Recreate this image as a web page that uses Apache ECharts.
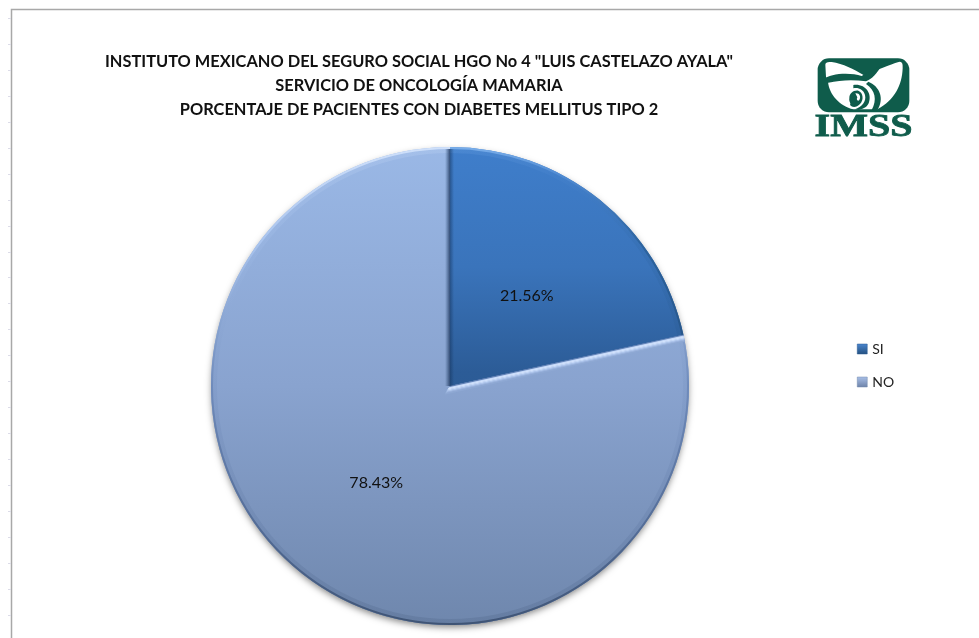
<!DOCTYPE html>
<html>
<head>
<meta charset="utf-8">
<style>html,body{margin:0;padding:0;background:#fff}#chart{width:979px;height:638px}</style>
<script src="https://cdn.jsdelivr.net/npm/echarts@6/dist/echarts.min.js"></script>
</head>
<body>
<div id="chart"></div>
<script>
const categories = ['SI', 'NO'];
const shares = [21.56, 78.43];
const labelOffsets = [[0, 5], [3, 1]];
const titleLines = [
  'INSTITUTO MEXICANO DEL SEGURO SOCIAL HGO No 4 "LUIS CASTELAZO AYALA"',
  'SERVICIO DE ONCOLOGÍA MAMARIA',
  'PORCENTAJE DE PACIENTES CON DIABETES MELLITUS TIPO 2'
];

const cx = 450, cy = 386, radius = 239;
const top_ = cy - radius, bottom_ = cy + radius;

// Vertical gradient shared by all layers, in page pixels
function vertical(stops) {
  return new echarts.graphic.LinearGradient(0, top_, 0, bottom_,
    stops.map(([offset, color]) => ({ offset, color })), true);
}
function iconFill(a, b) {
  return new echarts.graphic.LinearGradient(0, 0, 0, 1, [{ offset: 0, color: a }, { offset: 1, color: b }]);
}
const fillSi = vertical([[0, '#3f7ecb'], [0.25, '#3a74bb'], [0.47, '#2c5c97'], [1, '#24507f']]);
const fillNo = vertical([[0, '#9ab8e6'], [0.5, '#89a3cf'], [1, '#6f87ad']]);
const rimSi = vertical([[0, '#7aaeea'], [0.06, '#4f8ad2'], [0.2, '#2d649f'], [0.5, '#244f80'], [1, '#1f4570']]);
const rimNo = vertical([[0, '#cfe0fa'], [0.2, '#a9c4ee'], [0.5, '#6f8bbb'], [0.8, '#536c96'], [1, '#3f5475']]);

function layer(fills, extra) {
  return categories.map((name, i) => ({
    name, value: shares[i],
    itemStyle: { color: fills[i], ...extra }
  }));
}

// Seam at the end of the first slice: parallel lines stepping from bright to the slice colour
const seamAngle = shares[0] / (shares[0] + shares[1]) * 2 * Math.PI;
const tx = Math.sin(seamAngle), ty = -Math.cos(seamAngle);
const nx = Math.cos(seamAngle), ny = Math.sin(seamAngle);
const seamSteps = ['#5f7fb4', '#c4d8f8', '#d4e3fc', '#c6d9f8', '#afc6ec', '#9cb4de', '#8ea8d3'];
const seamLines = seamSteps.map((stroke, i) => {
  const d = i + 0.5;
  const reach = Math.sqrt(radius * radius - d * d);
  return { type: 'line', silent: true, z: 20,
    shape: {
      x1: cx + nx * d - tx * d, y1: cy + ny * d - ty * d,
      x2: cx + nx * d + tx * reach, y2: cy + ny * d + ty * reach
    },
    style: { stroke, lineWidth: 1.3 } };
});

const frameTicks = [];
for (let y = 18; y < 638; y += 25.95) {
  frameTicks.push({ type: 'line', silent: true, z: 10,
    shape: { x1: 8, y1: Math.round(y) + 0.5, x2: 11, y2: Math.round(y) + 0.5 },
    style: { stroke: '#dcdce8', lineWidth: 1 } });
}

// Emblem outlines
const emblemPaths = {
  emblemShield: 'M106,74 Q106,64 125,66 C160,72 190,86 222,106 C260,90 300,74 326,66 Q340,62 338,85 C336,135 315,180 262,208 L190,208 C150,198 118,165 114,125 L108,110 Z',
  emblemEagle: 'M100,118 C120,100 180,96 215,108 C230,100 255,88 275,76 C262,100 245,118 228,124 C190,118 150,120 115,128 Z',
  emblemSwoosh: 'M235,125 C268,138 285,175 262,210 L245,210 C262,180 256,150 228,132 Z',
  emblemHalo: 'M190,135 C225,130 248,160 236,190 C230,204 215,208 205,210 L195,208 C215,200 230,185 225,165 C220,148 205,142 190,145 Z',
  emblemFace: 'M178,175 C178,160 190,150 205,152 C220,158 222,180 210,192 C200,202 188,204 180,195 C184,190 176,186 178,175 Z',
  emblemCurl: 'M196,160 C208,158 214,170 208,180 C203,186 198,178 202,172 Z'
};
Object.keys(emblemPaths).forEach(k => {
  echarts.graphic.registerShape(k, echarts.graphic.extendPath(emblemPaths[k]));
});

const green = '#0f5c4b';
const logo = {
  type: 'group', x: 790, y: 40, scaleX: 1 / 3, scaleY: 1 / 3, silent: true, z: 30,
  children: [
    { type: 'rect', shape: { x: 83, y: 55, width: 275, height: 162, r: 34 }, style: { fill: green } },
    { type: 'emblemShield', style: { fill: '#fff' } },
    { type: 'emblemEagle', style: { fill: green } },
    { type: 'emblemSwoosh', style: { fill: green } },
    { type: 'emblemHalo', style: { fill: green } },
    { type: 'emblemFace', style: { fill: green } },
    { type: 'emblemCurl', style: { fill: '#fff' } }
  ]
};
const logoWord = {
  type: 'text', silent: true, z: 30, x: 863.5, y: 128, scaleX: 1.25, scaleY: 1,
  style: { text: 'IMSS', align: 'center', verticalAlign: 'middle',
    font: 'bold 32px "Liberation Serif"', fill: green, stroke: green, lineWidth: 0.8 }
};

const chart = echarts.init(document.getElementById('chart'), null, { renderer: 'canvas' });
chart.setOption({
  backgroundColor: '#ffffff',
  animation: false,
  title: {
    text: titleLines.join('\n'),
    left: 414, top: 45, textAlign: 'center',
    textStyle: { fontFamily: 'Lato', fontWeight: 'bold', fontSize: 16.4, lineHeight: 24, color: '#111' }
  },
  legend: {
    orient: 'vertical', left: 852, top: 336,
    itemWidth: 10, itemHeight: 10, itemGap: 17, icon: 'rect',
    selectedMode: false,
    textStyle: { fontFamily: 'Lato', fontSize: 14, color: '#222', lineHeight: 16 },
    data: [
      { name: 'SI', itemStyle: { color: iconFill('#4a86cf', '#24507f'), borderColor: '#2a5a90', borderWidth: 0.5 } },
      { name: 'NO', itemStyle: { color: iconFill('#a9c0e8', '#6d82a8'), borderColor: '#7389ad', borderWidth: 0.5 } }
    ]
  },
  series: [
    {
      // disc underneath, only its soft shadow shows past the edge
      type: 'pie', center: [cx, cy + 1], radius: [0, radius - 1], startAngle: 90, clockwise: true,
      silent: true, z: 0, legendHoverLink: false,
      data: layer([fillSi, fillNo], { shadowBlur: 7, shadowColor: 'rgba(0,0,0,0.5)', shadowOffsetY: 2 }),
      label: { show: false }, labelLine: { show: false }
    },
    {
      type: 'pie', center: [cx, cy], radius: [0, radius], startAngle: 90, clockwise: true,
      silent: true, z: 1,
      data: categories.map((name, i) => ({
        name, value: shares[i],
        itemStyle: { color: [fillSi, fillNo][i] },
        label: { offset: labelOffsets[i] }
      })),
      label: {
        position: 'inside', fontFamily: 'Lato', fontSize: 16, color: '#111',
        formatter: p => p.value.toFixed(2) + '%'
      },
      labelLine: { show: false }
    },
    {
      // wide faint band blending the bevel into the fill
      type: 'pie', center: [cx, cy], radius: [radius - 6, radius], startAngle: 90, clockwise: true,
      silent: true, z: 2, legendHoverLink: false,
      data: layer([rimSi, rimNo], { opacity: 0.2 }),
      label: { show: false }, labelLine: { show: false }
    },
    {
      type: 'pie', center: [cx, cy], radius: [radius - 2, radius], startAngle: 90, clockwise: true,
      silent: true, z: 3, legendHoverLink: false,
      data: layer([rimSi, rimNo]),
      label: { show: false }, labelLine: { show: false }
    }
  ],
  graphic: [
    { type: 'polyline', silent: true, z: 10,
      shape: { points: [[11.5, 638], [11.5, 9.5], [979, 9.5]] },
      style: { stroke: '#a8a8a8', lineWidth: 1.5, fill: null } },
    ...frameTicks,
    ...seamLines,
    // shaded edges either side of the 12 o'clock boundary
    { type: 'rect', silent: true, z: 20,
      shape: { x: cx - 5, y: top_ + 2, width: 5, height: radius - 2 },
      style: { fill: new echarts.graphic.LinearGradient(0, 0, 1, 0, [
        { offset: 0, color: 'rgba(50,80,120,0)' }, { offset: 1, color: 'rgba(40,65,105,0.9)' }]) } },
    { type: 'rect', silent: true, z: 20,
      shape: { x: cx, y: top_ + 2, width: 4, height: radius - 2 },
      style: { fill: new echarts.graphic.LinearGradient(0, 0, 1, 0, [
        { offset: 0, color: 'rgba(20,50,90,0.5)' }, { offset: 1, color: 'rgba(20,50,90,0)' }]) } },
    logo,
    logoWord
  ]
});
</script>
</body>
</html>
